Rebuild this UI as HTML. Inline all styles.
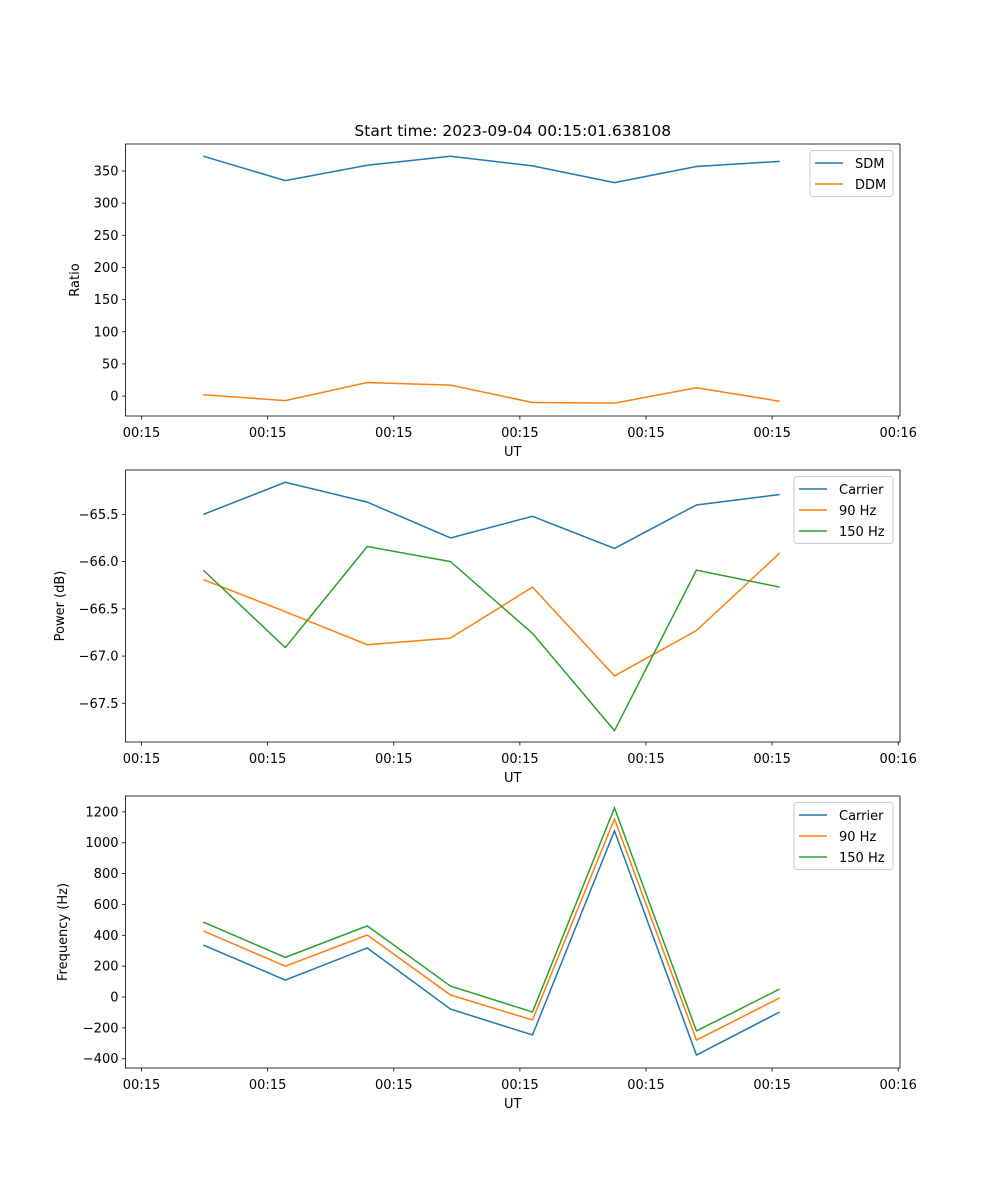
<!DOCTYPE html>
<html><head><meta charset="utf-8"><style>
body{margin:0;background:#fff}
svg{display:block;font-family:"DejaVu Sans","Liberation Sans",sans-serif}
</style></head><body>
<svg id="fig" width="1000" height="1200"></svg>
<script>
// shared x data (seconds after 00:15:00)
const times = [4.9, 11.4, 17.9, 24.5, 31.0, 37.5, 44.0, 50.6];
const xTickVals = [0, 10, 20, 30, 40, 50, 60];
const xTickLabels = ["00:15","00:15","00:15","00:15","00:15","00:15","00:16"];
// panel 1
const sdm = [373, 335, 359, 373, 358, 332, 357, 365];
const ddm = [2, -7, 21, 17, -10, -11, 13, -8];
const p1Ticks = [0, 50, 100, 150, 200, 250, 300, 350];
// panel 2
const pwrCarrier = [-65.5, -65.16, -65.37, -65.75, -65.52, -65.86, -65.40, -65.29];
const pwr90 = [-66.19, -66.53, -66.88, -66.81, -66.27, -67.21, -66.73, -65.91];
const pwr150 = [-66.09, -66.91, -65.84, -66.0, -66.76, -67.79, -66.09, -66.27];
const p2Ticks = [-65.5, -66.0, -66.5, -67.0, -67.5];
// panel 3
const frqCarrier = [337, 110, 318, -78, -246, 1077, -376, -97];
const frq90 = [428, 200, 402, 13, -149, 1154, -279, -6];
const frq150 = [486, 257, 461, 71, -97, 1226, -220, 52];
const p3Ticks = [-400, -200, 0, 200, 400, 600, 800, 1000, 1200];

const NS = "http://www.w3.org/2000/svg";
const svg = document.getElementById("fig");
const C = {blue:"#1f77b4", orange:"#ff7f0e", green:"#2ca02c"};
function mk(tag, attrs, parent){const e=document.createElementNS(NS,tag);for(const k in attrs)e.setAttribute(k,attrs[k]);(parent||svg).appendChild(e);return e;}
const L=125.5, R=900, xMin=-1.27, xMax=60.14;
const xs = t => L + (t - xMin) / (xMax - xMin) * (R - L);

function panel(name, top, bottom, yMin, yMax, ticks, tickFmt, ylabel, series, legend){
  const g = mk("g", {});
  
  
  const ys = v => bottom - (v - yMin) / (yMax - yMin) * (bottom - top);
  series.forEach(s=>{
    const p = mk("polyline", {points: s.vals.map((v,i)=>xs(times[i])+","+ys(v)).join(" "), fill:"none", stroke:s.color, "stroke-width":1.5}, g);
    
    
  });
  const fr = mk("rect", {x:L, y:top, width:R-L, height:bottom-top, fill:"none", stroke:"#000", "stroke-width":0.8}, g);
  
  
  ticks.forEach(v=>{
    const y = ys(v);
    mk("line",{x1:L-3.5,x2:L,y1:y,y2:y,stroke:"#000","stroke-width":0.8},g);
    const t = mk("text",{x:L-7,y:y+4.5,"text-anchor":"end","font-size":13},g);
    t.textContent = tickFmt(v);
    
    
  });
  xTickVals.forEach((v,i)=>{
    const x = xs(v);
    mk("line",{x1:x,x2:x,y1:bottom,y2:bottom+3.5,stroke:"#000","stroke-width":0.8},g);
    const t = mk("text",{x:x,y:bottom+21,"text-anchor":"middle","font-size":13},g);
    t.textContent = xTickLabels[i];
    
    
  });
  const xl = mk("text",{x:(L+R)/2,y:bottom+40,"text-anchor":"middle","font-size":13},g);
  xl.textContent="UT";
  
  
  const yl = mk("text",{x:0,y:0,"text-anchor":"middle","font-size":13,transform:`translate(${legend.ylx},${(top+bottom)/2}) rotate(-90)`},g);
  yl.textContent=ylabel;
  
  
  // legend
  const lg = mk("g",{},g);
  
  
  mk("rect",{x:legend.x,y:top+6.5,width:R-7-legend.x,height:series.length*21+4,rx:3,fill:"#fff",stroke:"#ccc","stroke-width":1},lg);
  series.forEach((s,i)=>{
    const y = top+19+i*21;
    mk("line",{x1:legend.x+5,x2:legend.x+33,y1:y,y2:y,stroke:s.color,"stroke-width":1.5},lg);
    const t = mk("text",{x:legend.x+45,y:y+5,"font-size":13},lg);
    t.textContent = s.label;
    
    
  });
}

const tt = mk("text",{x:(L+R)/2,y:136,"text-anchor":"middle","font-size":15.5});
tt.textContent = "Start time: 2023-09-04 00:15:01.638108";



panel("ratio-panel",144,416,-31,392,p1Ticks,v=>String(v),"Ratio",
  [{id:"sdm",vals:sdm,color:C.blue,label:"SDM"},{id:"ddm",vals:ddm,color:C.orange,label:"DDM"}],{x:810,ylx:79});
panel("power-panel",470,742,-67.91,-65.03,p2Ticks,v=>"\u2212"+Math.abs(v).toFixed(1),"Power (dB)",
  [{id:"carrier",vals:pwrCarrier,color:C.blue,label:"Carrier"},{id:"90hz",vals:pwr90,color:C.orange,label:"90 Hz"},{id:"150hz",vals:pwr150,color:C.green,label:"150 Hz"}],{x:794,ylx:64});
panel("frequency-panel",796,1068,-460,1303,p3Ticks,v=>v<0?"\u2212"+Math.abs(v):String(v),"Frequency (Hz)",
  [{id:"carrier",vals:frqCarrier,color:C.blue,label:"Carrier"},{id:"90hz",vals:frq90,color:C.orange,label:"90 Hz"},{id:"150hz",vals:frq150,color:C.green,label:"150 Hz"}],{x:794,ylx:67});
</script>
</body></html>
